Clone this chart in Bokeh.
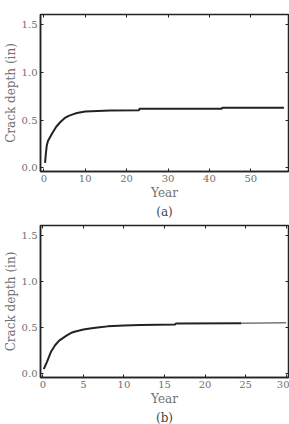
from bokeh.plotting import figure
from bokeh.layouts import column
from bokeh.models import LinearAxis, Range1d, Title, FixedTicker, CustomJSTickFormatter
from bokeh.embed import file_html
from bokeh.resources import INLINE

years_a = [0.3, 0.5, 0.7, 1.0, 1.5, 2, 3, 4, 5, 6, 7, 8, 10, 16, 23, 23.1, 43, 43.1, 58]
depth_a = [0.05, 0.15, 0.23, 0.28, 0.32, 0.36, 0.43, 0.48, 0.52, 0.545, 0.56, 0.575, 0.59, 0.60, 0.605, 0.62, 0.62, 0.63, 0.63]

years_b = [0.1, 0.5, 1, 1.5, 2, 2.5, 3, 3.5, 4, 5, 6, 7, 8, 10, 12, 16.3, 16.4, 24.5]
depth_b = [0.05, 0.13, 0.24, 0.31, 0.36, 0.39, 0.42, 0.445, 0.46, 0.48, 0.495, 0.505, 0.515, 0.525, 0.53, 0.535, 0.545, 0.55]
years_b_tail = [24.5, 30]
depth_b_tail = [0.55, 0.555]

y_ticks = [0.0, 0.5, 1.0, 1.5]
x_ticks_a = [0, 10, 20, 30, 40, 50]
x_ticks_b = [0, 5, 10, 15, 20, 25, 30]

FONT = "DejaVu Serif"
GRAY = "#707070"


def make_fig(height, top, xr, xt, label):
    p = figure(width=289, height=height, output_backend="svg", toolbar_location=None,
               x_range=Range1d(*xr), y_range=Range1d(-0.04, 1.61),
               min_border_left=37, min_border_right=1, min_border_top=top, min_border_bottom=4)
    p.grid.visible = False
    p.outline_line_color = "#222222"
    p.outline_line_width = 1.5
    p.background_fill_color = "white"
    for ax in (p.xaxis[0], p.yaxis[0]):
        ax.axis_line_color = "#222222"
        ax.axis_line_width = 1.5
        ax.major_tick_in = 3
        ax.major_tick_out = 0
        ax.minor_tick_line_color = None
        ax.major_tick_line_color = "#222222"
        ax.major_label_text_font = FONT
        ax.major_label_text_font_size = "10px"
        ax.major_label_text_color = GRAY
        ax.axis_label_text_font = FONT
        ax.axis_label_text_font_style = "normal"
        ax.axis_label_text_color = GRAY
        ax.major_label_standoff = 3
        ax.axis_label_standoff = 1
    p.xaxis[0].ticker = FixedTicker(ticks=xt)
    p.yaxis[0].ticker = FixedTicker(ticks=y_ticks)
    p.xaxis[0].axis_label = "Year"
    p.xaxis[0].axis_label_text_font_size = "12px"
    p.yaxis[0].axis_label = "Crack depth (in)"
    p.yaxis[0].axis_label_text_font_size = "12px"
    p.yaxis[0].formatter = CustomJSTickFormatter(code="return tick.toFixed(1);")
    for loc, t in (("above", xt), ("right", y_ticks)):
        ax = LinearAxis(ticker=FixedTicker(ticks=t), axis_line_color=None,
                        major_tick_in=3, major_tick_out=0, minor_tick_line_color=None,
                        major_label_text_color=None, major_label_text_font_size="1px",
                        major_label_standoff=0, major_tick_line_color="#222222")
        p.add_layout(ax, loc)
    p.add_layout(Title(text=label, align="center", text_font=FONT, text_font_size="12px",
                       text_font_style="normal", text_color="#444444", standoff=0), "below")
    return p


pa = make_fig(218, 14, (-0.8, 59.1), x_ticks_a, "(a)")
pa.line(years_a, depth_a, line_color="#222222", line_width=2)

pb = make_fig(206, 7, (-0.3, 30.3), x_ticks_b, "(b)")
pb.line(years_b, depth_b, line_color="#222222", line_width=2)
pb.line(years_b_tail, depth_b_tail, line_color="#777777", line_width=1.5)

layout = column(pa, pb, spacing=0)
open("out.html", "w").write(file_html(layout, INLINE))
